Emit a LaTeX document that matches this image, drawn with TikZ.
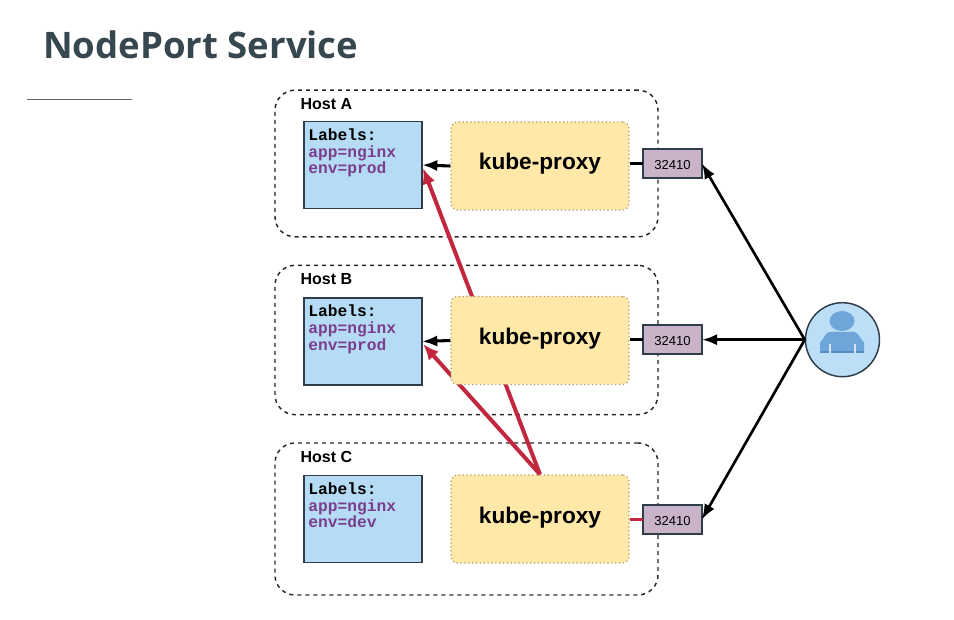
\documentclass[tikz,border=0pt]{standalone}
\usepackage{fontspec}
\setmainfont{Liberation Sans}
\setmonofont{Liberation Mono}
\newfontfamily\titlefont{Open Sans}
\usepackage{xcolor}
\usetikzlibrary{positioning}
\usetikzlibrary{arrows.meta}
\definecolor{titleink}{HTML}{37474F}
\definecolor{boxink}{HTML}{2E3D49}
\definecolor{podfill}{HTML}{B6DCF5}
\definecolor{proxyfill}{HTML}{FFE8A8}
\definecolor{proxyline}{HTML}{A89A6A}
\definecolor{portfill}{HTML}{C9B3C9}
\definecolor{labelink}{HTML}{7A3E8E}
\definecolor{hitred}{HTML}{C1283F}
\definecolor{userfill}{HTML}{BCDFF7}
\definecolor{userbody}{HTML}{6FA6DA}
\definecolor{userdark}{HTML}{558DC4}
\tikzset{
	host/.style = {draw=black!85, dashed, line width=1.1pt, rounded corners=15pt, minimum width=287.25pt, inner sep=0pt},
	hostname/.style = {inner sep=0pt, font=\fontsize{12}{14}\selectfont\bfseries},
	pod/.style = {rectangle, draw=boxink, fill=podfill, line width=1.1pt, minimum width=88.5pt, minimum height=65pt, inner sep=0pt, outer sep=0pt},
	podtext/.style = {inner sep=0pt, align=left, font=\fontsize{12.2}{12.6}\selectfont\ttfamily\bfseries},
	proxy/.style = {rectangle, rounded corners=5pt, draw=proxyline, dotted, fill=proxyfill, line width=.9pt, minimum width=133.5pt, minimum height=66pt, inner sep=0pt, font=\fontsize{17}{19}\selectfont\bfseries},
	port/.style = {rectangle, draw=boxink, fill=portfill, line width=1.1pt, minimum width=44pt, minimum height=21.75pt, inner sep=0pt, outer sep=0pt, font=\fontsize{9.8}{11}\selectfont},
	user/.style = {circle, draw=boxink, fill=userfill, line width=1.1pt, minimum size=55.5pt, inner sep=0pt},
	access/.style = {-{Latex[length=11.5pt,width=8.5pt]}, line width=2pt},
	local/.style = {-{Latex[length=11.5pt,width=8.5pt]}, line width=2.3pt},
	link/.style = {line width=2.3pt},
	hop/.style = {-{Latex[length=12pt,width=10pt]}, draw=hitred, line width=3pt}
}
\newcommand{\podlabels}[1]{Labels:\\\textcolor{labelink}{app=nginx}\\\textcolor{labelink}{env=#1}}
\newcommand{\proxylabel}{\raisebox{-3pt}[0pt][0pt]{kube-proxy}}
\newcommand{\portlabel}{\raisebox{-4.2pt}[0pt][0pt]{32410}}

\begin{document}
\begin{tikzpicture}[x=.75pt,y=-.75pt]
	\useasboundingbox (0,0) rectangle (954,620);
	% Title
	\node (title) [anchor=base west, inner sep=0pt, text=titleink, font=\fontsize{27.4}{30}\selectfont\titlefont\bfseries] at (43,59) {NodePort Service};
	\draw[draw=black!60, line width=.7pt] (27,99) -- (132,99);

	% Hosts
	\node (hostA) [host, minimum height=110pt] at (466.5,163.5) {};
	\node (hostB) [host, minimum height=112pt] at (466.5,340) {};
	\node (hostC) [host, minimum height=114pt] at (466.5,519) {};
	\node (nameA) [hostname, below right = 6.5pt and 19.5pt of hostA.north west] {Host A};
	\node (nameB) [hostname, below right = 6.5pt and 19.5pt of hostB.north west] {Host B};
	\node (nameC) [hostname, below right = 6.5pt and 19.5pt of hostC.north west] {Host C};

	% Pods
	\node (podA) [pod] at (363,165) {};
	\node (podB) [pod] at (363,341.5) {};
	\node (podC) [pod] at (363,519) {};
	\node (textA) [podtext, below right = 5pt and 3pt of podA.north west] {\podlabels{prod}};
	\node (textB) [podtext, below right = 5pt and 3pt of podB.north west] {\podlabels{prod}};
	\node (textC) [podtext, below right = 5pt and 3pt of podC.north west] {\podlabels{dev}};

	% Proxy C first, the red paths run behind proxy B
	\node (proxyC) [proxy] at (540,519) {\proxylabel};
	\coordinate (hitA) at (423,168);
	\coordinate (hitB) at (423,344);
	\draw[hop] (proxyC.north) -- (hitA);
	\draw[hop] (proxyC.north) -- (hitB);
	\node (proxyA) [proxy] at (540,166) {\proxylabel};
	\node (proxyB) [proxy] at (540,340.5) {\proxylabel};

	% Ports
	\node (portA) [port] at (672.5,163.5) {\portlabel};
	\node (portB) [port] at (672.5,339.7) {\portlabel};
	\node (portC) [port] at (672.5,519.5) {\portlabel};

	% User
	\node (user) [user] at (842.5,339.7) {};
	\fill[userbody] (820,353) -- (820,341) to[out=-90,in=180] (830,332) -- (854,332) to[out=0,in=-90] (864,341) -- (864,353) -- cycle;
	\fill[userdark] (820,351) rectangle (864,353);
	\fill[userbody] (842,321) ellipse [x radius=12.5, y radius=10];
	\draw[white!70!userbody, line width=.8pt] (830,344) -- (830,353);
	\draw[white!70!userbody, line width=.8pt] (855,344) -- (855,353);

	% Connectors
	\draw[local] (proxyA.west) -- (podA.east);
	\draw[local] (proxyB.west) -- (podB.east);
	\draw[link] (portA.west) -- (proxyA.east |- portA.west);
	\draw[link] (portB.west) -- (proxyB.east |- portB.west);
	\draw[link, draw=hitred, line width=2.8pt] (portC.west) -- (proxyC.east |- portC.west);
	\draw[access] (user.west) -- (portA.east);
	\draw[local] (user.west) -- (portB.east);
	\draw[access] (user.west) -- (portC.east);
\end{tikzpicture}
\end{document}
